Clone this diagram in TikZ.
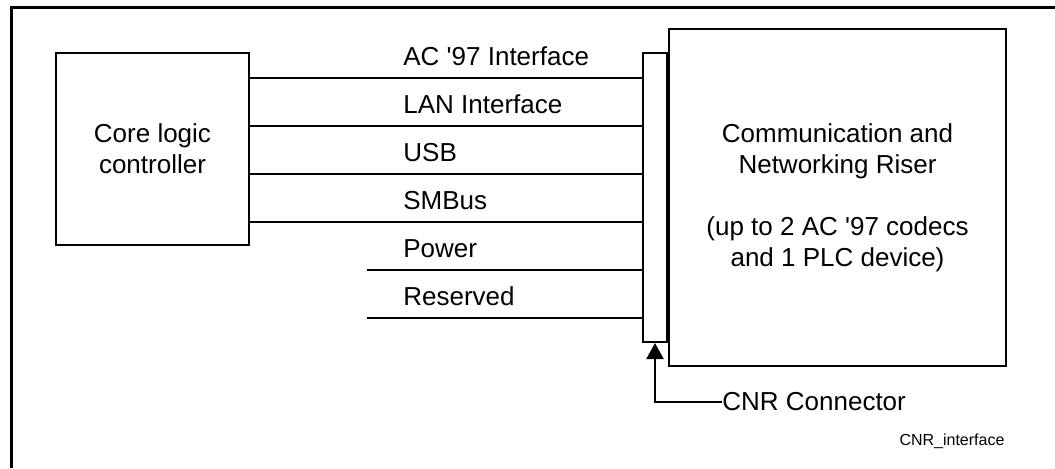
\documentclass[tikz,border=0pt]{standalone}
\usepackage{fontspec}
\setmainfont{Liberation Sans}
\usetikzlibrary{positioning, arrows.meta, calc}

\begin{document}
\begin{tikzpicture}[
    x=0.5pt, y=-0.5pt,
    font=\fontsize{13}{15.5}\selectfont,
    box/.style={draw, rectangle, line width=1pt, align=center, inner sep=0pt},
    sig/.style={draw, line width=1pt},
    lbl/.style={anchor=base west, inner sep=0pt},
    arr/.style={-{Triangle[length=8pt, width=8.5pt]}, line width=1pt}
]
    \useasboundingbox (0,0) rectangle (1055,468);
    \draw[line width=1.5pt] (1055,7) -- (11,7) -- (11,468);

    \node[box, minimum width=96.5pt, minimum height=96pt] (core) at (152.5,149) {Core logic\\controller};
    \node[box, minimum width=168.5pt, minimum height=168.5pt] (riser) at (837.5,197.5)
        {Communication and\\Networking Riser\\[15.5pt](up to 2 AC \textquotesingle 97 codecs\\and 1 PLC device)};
    \node[box, minimum width=12pt, minimum height=144.5pt] (bar) [left=0pt of riser] {};

    % signal lines into the connector
    \coordinate (s1) at (core.east |- 0,78);
    \coordinate (s2) at (core.east |- 0,126);
    \coordinate (s3) at (core.east |- 0,174);
    \coordinate (s4) at (core.east |- 0,222);
    \coordinate (s5) at (367,270);
    \coordinate (s6) at (367,318);
    \foreach \i in {1,...,6}
        \draw[sig] (s\i) -- (s\i -| bar.west);

    \foreach \y/\txt [count=\i] in {78/AC \textquotesingle 97 Interface, 126/LAN Interface, 174/USB,
                                    222/SMBus, 270/Power, 318/Reserved}
        \node[lbl] (lbl\i) at (403,\y-13) {\txt};

    \node[anchor=west, inner sep=0pt] (cnr) at (722,402) {CNR Connector};
    \draw[arr] (cnr.west) -| (bar.south);

    \node[font=\fontsize{8}{10}\selectfont, inner sep=0pt] (fig) at (952,441) {CNR\_interface};
\end{tikzpicture}
\end{document}
